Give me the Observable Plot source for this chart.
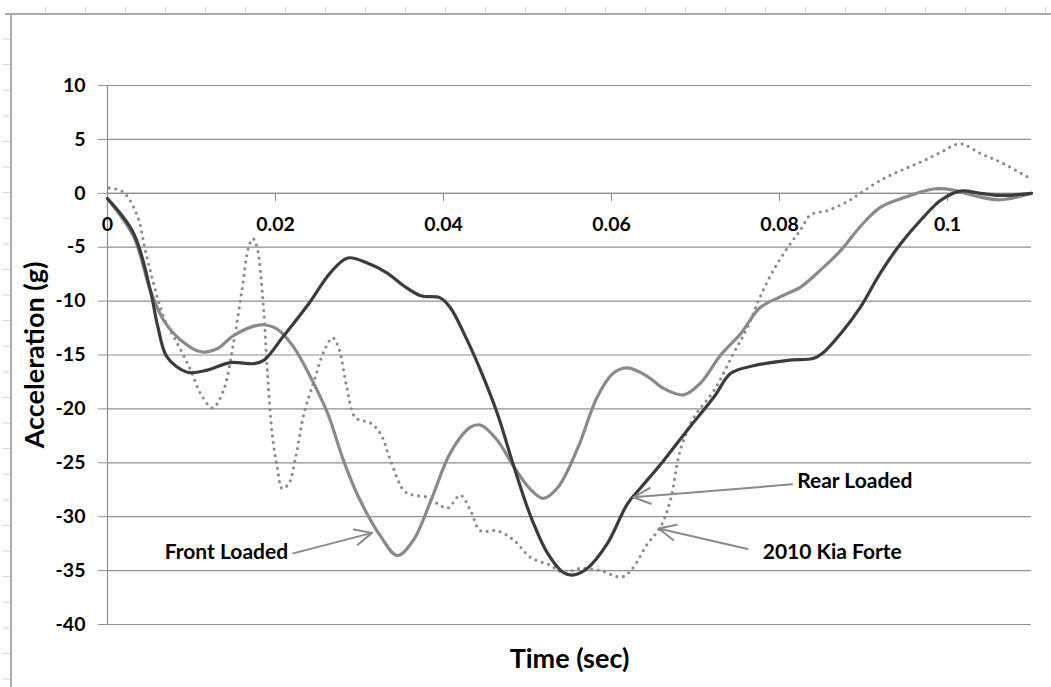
<!DOCTYPE html>
<html>
<head>
<meta charset="utf-8">
<script src="https://cdn.jsdelivr.net/npm/d3@7"></script>
<script src="https://cdn.jsdelivr.net/npm/@observablehq/plot@0.6"></script>
<style>
  html, body { margin: 0; padding: 0; background: white; }
  #wrap { position: relative; width: 1051px; height: 687px; overflow: hidden; }
  #wrap svg.ruler { position: absolute; left: 0; top: 0; pointer-events: none; }
</style>
</head>
<body>
<div id="wrap"></div>
<script>
// ---- data: [time (sec), acceleration (g)] ----
const rearLoaded = [
  [0,-0.5],[0.0031,-3.7],[0.0051,-9],[0.006,-12.4],[0.0071,-15.2],[0.0095,-16.6],[0.0119,-16.4],
  [0.0146,-15.7],[0.0174,-15.8],[0.0186,-15.5],[0.021,-13.2],[0.024,-10.2],[0.0265,-7.4],[0.0286,-6.0],
  [0.031,-6.5],[0.0333,-7.4],[0.0353,-8.6],[0.0373,-9.5],[0.0396,-9.7],[0.0408,-10.6],[0.0428,-13.6],
  [0.0444,-16.4],[0.0464,-20.4],[0.0484,-25.4],[0.0504,-30],[0.0524,-33.4],[0.0543,-35.2],[0.0555,-35.4],
  [0.0571,-34.8],[0.0595,-32.5],[0.0619,-28.8],[0.0635,-27.3],[0.0662,-24.8],[0.069,-22],[0.0722,-18.9],
  [0.0742,-16.7],[0.0769,-16.0],[0.081,-15.5],[0.0841,-15.3],[0.0852,-14.8],[0.0873,-13.0],[0.0896,-10.6],
  [0.092,-7.4],[0.0944,-4.7],[0.0968,-2.5],[0.0992,-0.65],[0.1015,0.2],[0.1039,0],[0.1063,-0.2],[0.11,0]
];
const frontLoaded = [
  [0,-0.5],[0.0031,-4],[0.0051,-9],[0.0067,-11.8],[0.0087,-13.6],[0.0111,-14.7],[0.0131,-14.4],
  [0.015,-13.2],[0.0182,-12.2],[0.0202,-12.6],[0.0221,-14.2],[0.0242,-17.1],[0.0262,-20.4],[0.0281,-24.8],
  [0.0299,-28.2],[0.0325,-31.8],[0.0345,-33.6],[0.0364,-32.2],[0.0385,-28.5],[0.0408,-24.1],[0.0432,-21.7],
  [0.0444,-21.5],[0.0464,-22.9],[0.0484,-25.4],[0.0504,-27.5],[0.0519,-28.3],[0.0536,-27.3],[0.056,-23.6],
  [0.0583,-18.9],[0.0602,-16.7],[0.0619,-16.2],[0.0643,-17],[0.0662,-18.1],[0.0686,-18.7],[0.0706,-17.6],
  [0.073,-15],[0.0754,-13],[0.0777,-10.6],[0.0801,-9.6],[0.0825,-8.7],[0.0849,-7.1],[0.0873,-5.3],
  [0.0896,-3.1],[0.092,-1.3],[0.0952,-0.3],[0.0983,0.4],[0.1007,0.3],[0.1031,-0.2],[0.1063,-0.6],[0.11,0]
];
const kiaForte = [
  [0.0002,0.5],[0.0019,0.1],[0.0036,-2.2],[0.0045,-5.3],[0.0055,-8.4],[0.0067,-11.5],[0.0083,-13.9],
  [0.0099,-16.4],[0.0111,-18.6],[0.0125,-19.9],[0.0138,-18.3],[0.015,-13.9],[0.016,-9],[0.0168,-5],
  [0.0173,-4.2],[0.0178,-5],[0.0185,-9.9],[0.019,-16.1],[0.0196,-22.3],[0.0202,-25.4],[0.0208,-27.4],
  [0.0216,-26.9],[0.0224,-24.5],[0.0234,-20.4],[0.0246,-17.4],[0.0258,-14.6],[0.0268,-13.4],[0.0275,-14.3],
  [0.0285,-18],[0.0295,-20.8],[0.0313,-21.3],[0.0325,-22.3],[0.0337,-24.8],[0.0353,-27.6],[0.0364,-28],
  [0.0381,-28.2],[0.0393,-28.8],[0.0405,-29.2],[0.042,-28],[0.0432,-29.4],[0.0444,-31.3],[0.0464,-31.3],
  [0.0484,-32.2],[0.0504,-33.8],[0.0527,-34.5],[0.0543,-35.2],[0.0563,-34.8],[0.0587,-35],[0.0611,-35.6],
  [0.0623,-35],[0.0643,-32.5],[0.0658,-31],[0.067,-28.5],[0.0682,-23.8],[0.0698,-20.8],[0.0722,-18.3],
  [0.0745,-14.9],[0.0762,-12.4],[0.0777,-9.6],[0.0793,-7.1],[0.081,-5],[0.0825,-3.4],[0.0837,-2],
  [0.0857,-1.6],[0.088,-0.8],[0.0896,0],[0.092,1.2],[0.0944,2.1],[0.0968,2.9],[0.0992,3.8],[0.1015,4.6],
  [0.1039,3.7],[0.1063,2.9],[0.11,1.3]
];
const xTicks = [0, 0.02, 0.04, 0.06, 0.08, 0.1];
const xTickLabels = ["0", "0.02", "0.04", "0.06", "0.08", "0.1"];
const yTicks = [-40, -35, -30, -25, -20, -15, -10, -5, 0, 5, 10];
const xDomain = [0, 0.11];
const yDomain = [-40, 10];
// annotations: label, text anchor point, arrow start, arrow end
const annotations = [
  {label: "Front Loaded", tx: 0.0215, ty: -33.3, anchor: "end",   x1: 0.0221, y1: -33.4, x2: 0.0315, y2: -31.5},
  {label: "Rear Loaded",  tx: 0.0821, ty: -26.7, anchor: "start", x1: 0.0815, y1: -27.0, x2: 0.0626, y2: -28.2},
  {label: "2010 Kia Forte", tx: 0.0780, ty: -33.3, anchor: "start", x1: 0.0762, y1: -33.0, x2: 0.0656, y2: -31.1}
];

const font = "Lato, 'Open Sans', sans-serif";
const stemShape = {draw(context, l) { context.moveTo(0, 0); context.lineTo(0, -l); }};
const annoText = (anchor) => Plot.text(annotations.filter(d => d.anchor === anchor),
  {x: "tx", y: "ty", text: "label", textAnchor: anchor, fontSize: 21, fontWeight: "bold", fill: "black"});

const chart = Plot.plot({
  width: 1051,
  height: 687,
  marginLeft: 107,
  marginRight: 20,
  marginTop: 85,
  marginBottom: 63,
  style: {fontFamily: font, background: "transparent", overflow: "visible"},
  x: {domain: xDomain, axis: null},
  y: {domain: yDomain},
  marks: [
    Plot.gridY(yTicks, {stroke: "#8f8f8f", strokeOpacity: 1, strokeWidth: 1.2}),
    Plot.axisY(yTicks, {tickSize: 9, tickPadding: 13, stroke: "#8f8f8f", fill: "black",
      fontSize: 19.5, fontWeight: "bold", label: null, tickFormat: d => String(d)}),
    Plot.ruleX([0], {stroke: "#8f8f8f", strokeWidth: 1.2}),
    Plot.ruleY([0], {stroke: "#8f8f8f", strokeWidth: 1.2}),
    Plot.vector(xTicks, {x: d => d, y: 0, length: 7, rotate: 180, anchor: "start",
      shape: stemShape, stroke: "#8f8f8f", strokeWidth: 1.2}),
    Plot.text(xTicks, {x: d => d, y: 0, text: (d, i) => xTickLabels[i], dy: 31,
      fontSize: 19.5, fontWeight: "bold", fill: "black"}),
    Plot.line(kiaForte, {x: d => d[0], y: d => d[1], curve: "catmull-rom", stroke: "#8c8c8c",
      strokeWidth: 3.2, strokeDasharray: "0 6.6", strokeLinecap: "round"}),
    Plot.line(frontLoaded, {x: d => d[0], y: d => d[1], curve: "catmull-rom", stroke: "#8a8a8a",
      strokeWidth: 3.2}),
    Plot.line(rearLoaded, {x: d => d[0], y: d => d[1], curve: "catmull-rom", stroke: "#3c3c3c",
      strokeWidth: 3.2}),
    Plot.arrow(annotations, {x1: "x1", y1: "y1", x2: "x2", y2: "y2", bend: 0, stroke: "#8a8a8a",
      strokeWidth: 2, headLength: 14, headAngle: 50}),
    annoText("end"),
    annoText("start"),
    Plot.text(["Acceleration (g)"], {frameAnchor: "left", dx: -72, rotate: -90, textAnchor: "middle",
      lineAnchor: "middle", fontSize: 27, fontWeight: "bold", fill: "black"}),
    Plot.text(["Time (sec)"], {frameAnchor: "bottom", dy: 35, lineAnchor: "middle", textAnchor: "middle",
      fontSize: 27, fontWeight: "bold", fill: "black"})
  ]
});
const wrap = document.getElementById("wrap");
wrap.appendChild(chart);

// spreadsheet ruler decoration (top and left edges)
const ruler = d3.select(wrap).append("svg").attr("class", "ruler")
  .attr("width", 1051).attr("height", 687);
ruler.append("line").attr("x1", 5).attr("x2", 1051).attr("y1", 14).attr("y2", 14)
  .attr("stroke", "#ababab").attr("stroke-width", 2);
ruler.append("line").attr("x1", 11).attr("x2", 11).attr("y1", 13).attr("y2", 687)
  .attr("stroke", "#ababab").attr("stroke-width", 2);
ruler.selectAll("line.tx").data(d3.range(45.7, 1051, 40)).join("line").attr("class", "tx")
  .attr("x1", d => d).attr("x2", d => d).attr("y1", 7).attr("y2", 13)
  .attr("stroke", "#d0d0d0");
ruler.selectAll("line.ty").data(d3.range(39, 687, 25.6)).join("line").attr("class", "ty")
  .attr("x1", 3).attr("x2", 10).attr("y1", d => d).attr("y2", d => d)
  .attr("stroke", "#d0d0d0");
</script>
</body>
</html>
